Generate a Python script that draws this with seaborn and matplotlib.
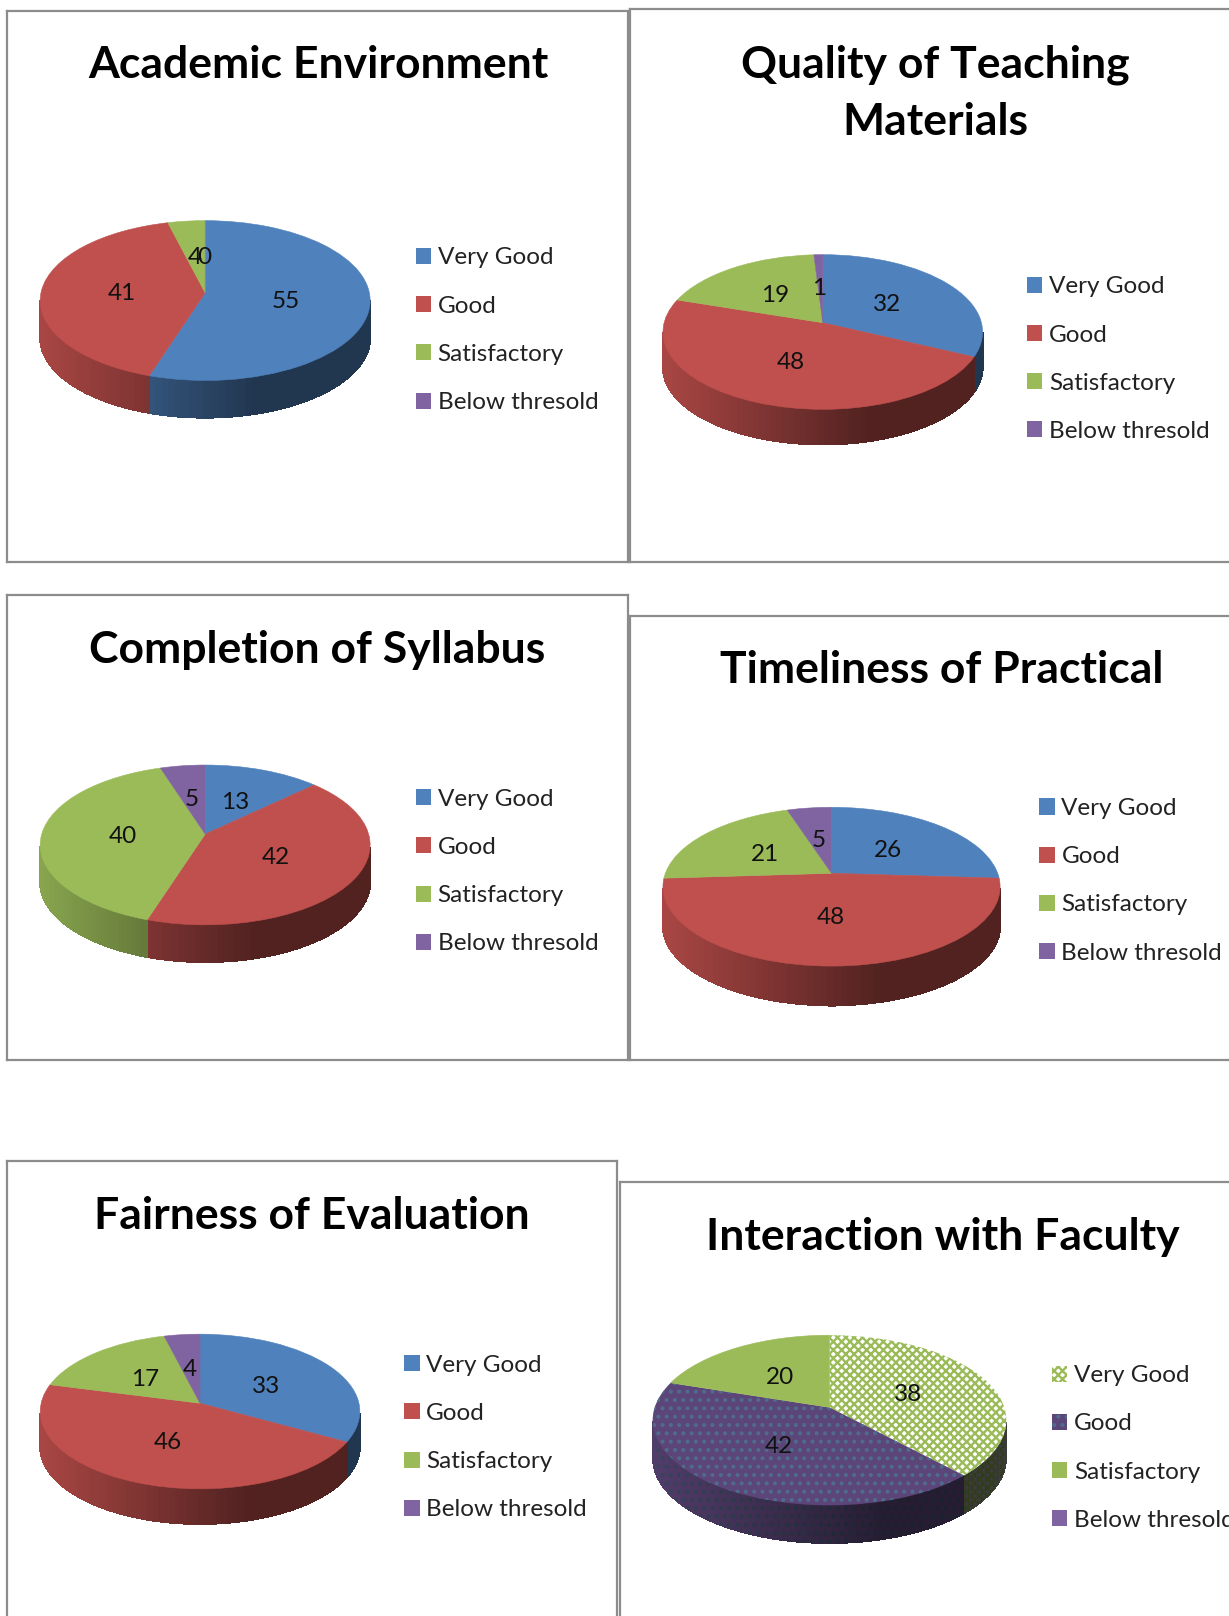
import numpy as np
import matplotlib
matplotlib.use('Agg')
import matplotlib.pyplot as plt
from matplotlib.colors import to_rgb
import seaborn as sns
from matplotlib.patches import Patch, PathPatch
from matplotlib.path import Path

sns.set_theme(style='white')
plt.rcParams['font.family'] = ['Lato', 'DejaVu Sans']
plt.rcParams['hatch.linewidth'] = 1.7

# Chart data
legend_labels = ['Very Good', 'Good', 'Satisfactory', 'Below thresold']
academic_values = [55, 41, 4, 0]
materials_values = [32, 48, 19, 1]
syllabus_values = [13, 42, 40, 5]
practical_values = [26, 48, 21, 5]
evaluation_values = [33, 46, 17, 4]
faculty_values = [38, 42, 20]

# colours of the office theme
palette = sns.color_palette(['#4F81BD', '#C0504D', '#9BBB59', '#8064A2'])
faculty_palette = sns.color_palette(['#FFFFFF', '#5C4578', '#9BBB59', '#8064A2'])
faculty_hatch = [('xxxx', '#9BBB59'), ('..', '#4F6C8C'), (None, None), (None, None)]
plain_hatch = [(None, None)] * 4

# layout was measured on the 1192 wide view, S brings it to the real size
S = 1229 / 1192
FIG_W, FIG_H = 1229, 1616
LABEL_SIZE = 17.5
TITLE_SIZE = 32


def shade_at(x):
    # rim gets darker from left to right, x is -1..1 over the pie
    return np.clip(0.88 - 0.35 * (x + 1), 0.42, 0.88)


def darker(color, f):
    return tuple(c * f for c in to_rgb(color))


def draw_panel(box, title_lines, title_x, title_y, values, colors, hatches,
               pie_box, apex_y, depth, legend_pos):
    left, top, right, bottom = [v * S for v in box]
    ax = fig.add_axes([left / FIG_W, 1 - bottom / FIG_H,
                       (right - left) / FIG_W, (bottom - top) / FIG_H])
    wedges, _ = ax.pie(values, startangle=90, counterclock=False, radius=1)

    x0, x1, y0, y1 = [v * S for v in pie_box]
    apex = apex_y * S
    depth_px = depth * S
    k = (y1 + y0 - 2 * apex) / (y1 - y0)
    b = (apex - y0) * (1 + k)
    r = (x1 - x0) / 2 * np.sqrt(1 - k ** 2)
    cx = (x0 + x1) / 2

    def warp(u, v):
        # tilted disc with some perspective, front edge comes out bigger
        w = 1 + k * np.asarray(v)
        return cx + r * np.asarray(u) / w, apex - b * np.asarray(v) / w

    # rim first, cut in thin strips for the gradient
    for i, wedge in enumerate(wedges):
        t = np.radians(np.linspace(wedge.theta1, wedge.theta2, 90))
        hatch, hatch_color = hatches[i]
        for a, c in zip(t[:-1], t[1:]):
            if np.sin(a) >= -k or np.sin(c) >= -k:
                continue
            xa, ya = warp(np.cos(a), np.sin(a))
            xc, yc = warp(np.cos(c), np.sin(c))
            f = shade_at((xa + xc) / 2 / r - cx / r)
            if hatch:
                base = colors[i] if i else (0.55, 0.55, 0.55)
                ax.fill([xa, xc, xc, xa], [ya, yc, yc + depth_px, ya + depth_px],
                        facecolor=darker(base, f), edgecolor=darker(hatch_color, f * 0.75),
                        hatch=hatch, lw=0, antialiased=False)
            else:
                # no antialias here, it leaves thin stripes between the strips
                ax.fill([xa, xc, xc, xa], [ya, yc, yc + depth_px, ya + depth_px],
                        color=darker(colors[i], f), lw=0.8, antialiased=False)

    # top of the pie from the wedges that pie() worked out
    for i, wedge in enumerate(wedges):
        path = wedge.get_path()
        pts = wedge.get_patch_transform().transform(path.vertices)
        xs, ys = warp(pts[:, 0], pts[:, 1])
        hatch, hatch_color = hatches[i]
        if hatch:
            patch = PathPatch(Path(np.column_stack([xs, ys]), path.codes),
                              facecolor=colors[i], edgecolor=hatch_color, hatch=hatch, lw=0)
        else:
            patch = PathPatch(Path(np.column_stack([xs, ys]), path.codes),
                              facecolor=colors[i], edgecolor=colors[i], lw=0.4)
        ax.add_patch(patch)
        wedge.set_visible(False)
        mid = np.radians((wedge.theta1 + wedge.theta2) / 2)
        lx, ly = warp(0.5 * np.cos(mid), 0.5 * np.sin(mid))
        ax.text(lx - 1, ly + 2, str(values[i]), ha='center', va='center',
                fontsize=LABEL_SIZE, color='#111111', zorder=5)

    ax.set_aspect('auto')
    ax.set_xlim(left, right)
    ax.set_ylim(bottom, top)
    ax.set_xticks([])
    ax.set_yticks([])
    ax.set_frame_on(True)
    for spine in ax.spines.values():
        spine.set_edgecolor('#8C8C8C')
        spine.set_linewidth(1.6)

    for line, ty in zip(title_lines, title_y):
        ax.text(title_x * S, (ty + 2.5) * S, line, ha='center', va='center',
                fontsize=TITLE_SIZE, fontweight='bold', color='black')

    handles = []
    for i, lab in enumerate(legend_labels):
        hatch, hatch_color = hatches[i]
        handles.append(Patch(facecolor=colors[i], edgecolor=hatch_color if hatch else colors[i],
                             hatch=hatch, lw=0))
    ax.legend(handles, legend_labels, loc='upper left', frameon=False, fontsize=LABEL_SIZE,
              bbox_to_anchor=((legend_pos[0] - 1) * S / FIG_W, 1 - (legend_pos[1] + 8) * S / FIG_H),
              bbox_transform=fig.transFigure, borderaxespad=0, borderpad=0,
              handlelength=0.64, handleheight=0.64, handletextpad=0.27,
              labelspacing=1.12, labelcolor='#222222')


fig = plt.figure(figsize=(FIG_W / 100, FIG_H / 100), dpi=100, facecolor='white')

draw_panel((7, 11, 609, 545), ['Academic Environment'], 309, [61], academic_values,
           palette, plain_hatch, (39, 359, 214, 369), 284, 36, (404, 232))
draw_panel((611, 9, 1270, 545), ['Quality of Teaching', 'Materials'], 907, [60, 116], materials_values,
           palette, plain_hatch, (643, 953, 247, 397), 313, 34, (997, 260))
draw_panel((7, 577, 609, 1028), ['Completion of Syllabus'], 308, [628], syllabus_values,
           palette, plain_hatch, (39, 359, 742, 897), 809, 36, (404, 757))
draw_panel((611, 597, 1270, 1028), ['Timeliness of Practical'], 913, [647], practical_values,
           palette, plain_hatch, (643, 970, 783, 937), 847, 38, (1009, 766))
draw_panel((7, 1126, 598, 1650), ['Fairness of Evaluation'], 302, [1177], evaluation_values,
           palette, plain_hatch, (39, 349, 1294, 1444), 1361, 34, (393, 1306))
draw_panel((601, 1146, 1270, 1650), ['Interaction with Faculty'], 914, [1197], faculty_values,
           faculty_palette, faculty_hatch, (633, 976, 1295, 1460), 1365, 37, (1021, 1316))

fig.savefig('out.png', dpi=100)
